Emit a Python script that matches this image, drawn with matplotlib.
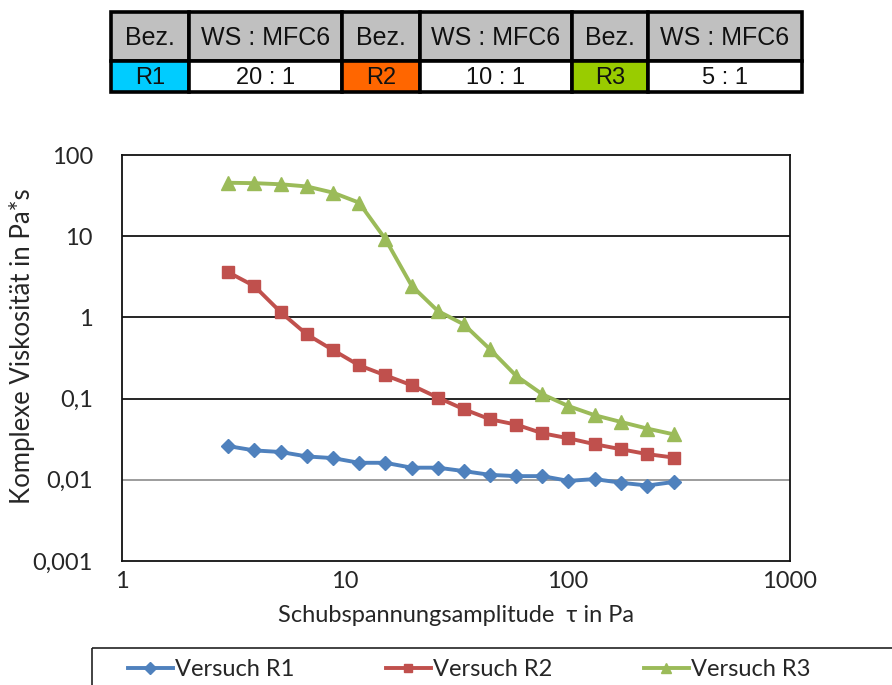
import matplotlib
matplotlib.use("Agg")
import matplotlib.pyplot as plt
from matplotlib.patches import Rectangle
from matplotlib.lines import Line2D
from matplotlib.ticker import FixedLocator, NullLocator

# ---- data -------------------------------------------------------------
shear_stress = [3.0, 3.93, 5.16, 6.76, 8.86, 11.6, 15.2, 20.0, 26.2,
                34.3, 45.0, 59.0, 77.3, 101.0, 133.0, 174.0, 229.0, 300.0]

visc_r1 = [0.026, 0.023, 0.022, 0.0194, 0.0185, 0.0162, 0.0162, 0.0141, 0.0141,
           0.0128, 0.0115, 0.0111, 0.0111, 0.0097, 0.0102, 0.0092, 0.0085, 0.0094]
visc_r2 = [3.6, 2.43, 1.16, 0.618, 0.396, 0.257, 0.194, 0.146, 0.103,
           0.074, 0.0556, 0.0478, 0.0374, 0.0325, 0.0274, 0.0238, 0.0207, 0.0188]
visc_r3 = [45.5, 45.0, 43.6, 41.0, 34.4, 25.9, 9.3, 2.45, 1.2,
           0.82, 0.404, 0.19, 0.113, 0.081, 0.0623, 0.0516, 0.0427, 0.0363]

series_names = ["Versuch R1", "Versuch R2", "Versuch R3"]
series_colors = ["#4F81BD", "#C0504D", "#9BBB59"]
series_markers = ["D", "s", "^"]
series_msize = [7.5, 8.5, 9.5]

y_ticks = [0.001, 0.01, 0.1, 1, 10, 100]
y_ticklabels = ["0,001", "0,01", "0,1", "1", "10", "100"]
x_ticks = [1, 10, 100, 1000]
x_ticklabels = ["1", "10", "100", "1000"]

# legend table above the chart
table_header = ["Bez.", "WS : MFC6"]
table_ids = ["R1", "R2", "R3"]
table_ratios = ["20 : 1", "10 : 1", "5 : 1"]
table_id_colors = ["#00CCFF", "#FF6600", "#99CC00"]

# ---- figure -----------------------------------------------------------
W, H = 892, 685
fig = plt.figure(figsize=(W / 100, H / 100), dpi=100)
label_font = "Lato"
text_col = "#262626"

ax = fig.add_axes([122 / W, 1 - 561 / H, (790 - 122) / W, (561 - 155) / H])
ax.set_xscale("log")
ax.set_yscale("log")
ax.set_xlim(1, 1000)
ax.set_ylim(0.001, 100)

# horizontal gridlines: 0.01 in grey, others black
for yv in y_ticks[2:-1]:
    ax.axhline(yv, color="black", lw=1.2, zorder=1)
ax.axhline(y_ticks[1], color="#8C8C8C", lw=1.2, zorder=1)

for vals, name, col, mk, ms in zip([visc_r1, visc_r2, visc_r3], series_names,
                                   series_colors, series_markers, series_msize):
    ax.plot(shear_stress, vals, color=col, lw=2.8, marker=mk, ms=ms,
            mec=col, mfc=col, label=name, zorder=3)

ax.xaxis.set_major_locator(FixedLocator(x_ticks))
ax.xaxis.set_minor_locator(NullLocator())
ax.yaxis.set_major_locator(FixedLocator(y_ticks))
ax.yaxis.set_minor_locator(NullLocator())
ax.set_xticklabels(x_ticklabels, fontsize=17, family=label_font)
ax.set_yticklabels(y_ticklabels, fontsize=17, family=label_font)
ax.tick_params(length=0, colors=text_col)
ax.tick_params(axis="y", pad=21)
ax.tick_params(axis="x", pad=7)
for sp in ax.spines.values():
    sp.set_color("#111111")
    sp.set_linewidth(1.3)

ax.set_xlabel("Schubspannungsamplitude  τ in Pa", fontsize=17,
              family=label_font, color=text_col)
ax.xaxis.set_label_coords(0.5, -(616 - 561) / (561 - 155), transform=ax.transAxes)
ax.xaxis.label.set_va("center")
ax.set_ylabel("Komplexe Viskosität in Pa*s", fontsize=18.5,
              family=label_font, color=text_col)
ax.yaxis.set_label_coords(-(122 - 22) / (790 - 122), (561 - 346) / (561 - 155),
                          transform=ax.transAxes)
ax.yaxis.label.set_va("center")

# ---- legend box at the bottom -----------------------------------------
ov = fig.add_axes([0, 0, 1, 1], zorder=5)
ov.set_xlim(0, W)
ov.set_ylim(H, 0)
ov.axis("off")
ov.patch.set_alpha(0)
ov.add_patch(Rectangle((92, 648), 830, 60, fill=False, ec="#222222", lw=1.2,
                       clip_on=False))
entry_left = [128, 386, 644]
for name, c, m, s, xl in zip(series_names, series_colors, series_markers,
                             series_msize, entry_left):
    h = Line2D([], [], color=c, lw=2.8, marker=m, ms=s * 0.75, mec=c, mfc=c)
    leg = fig.legend([h], [name], loc="center left",
                     bbox_to_anchor=(xl / W, 1 - 670 / H), frameon=False,
                     prop={"family": label_font, "size": 17}, handlelength=1.9,
                     handletextpad=0.1, borderaxespad=0, borderpad=0)
    for t in leg.get_texts():
        t.set_color(text_col)

# ---- table ------------------------------------------------------------
col_edges = [111, 189, 342, 420, 572, 648, 802]
row_edges = [12, 61, 92]
for i in range(3):
    for j in range(2):
        x0, x1 = col_edges[2 * i + j], col_edges[2 * i + j + 1]
        # header cell
        ov.add_patch(Rectangle((x0, row_edges[0]), x1 - x0,
                               row_edges[1] - row_edges[0],
                               fc="#C0C0C0", ec="black", lw=2.6))
        ov.text((x0 + x1) / 2, (row_edges[0] + row_edges[1]) / 2 + 1,
                table_header[j], ha="center", va="center",
                family="Liberation Sans", fontsize=18, color="#111111")
        # value cell
        fc = table_id_colors[i] if j == 0 else "white"
        txt = table_ids[i] if j == 0 else table_ratios[i]
        ov.add_patch(Rectangle((x0, row_edges[1]), x1 - x0,
                               row_edges[2] - row_edges[1],
                               fc=fc, ec="black", lw=2.6))
        ov.text((x0 + x1) / 2, (row_edges[1] + row_edges[2]) / 2 + 1, txt,
                ha="center", va="center", family="Liberation Sans",
                fontsize=17, color="#111111")

fig.savefig("out.png", dpi=100)
